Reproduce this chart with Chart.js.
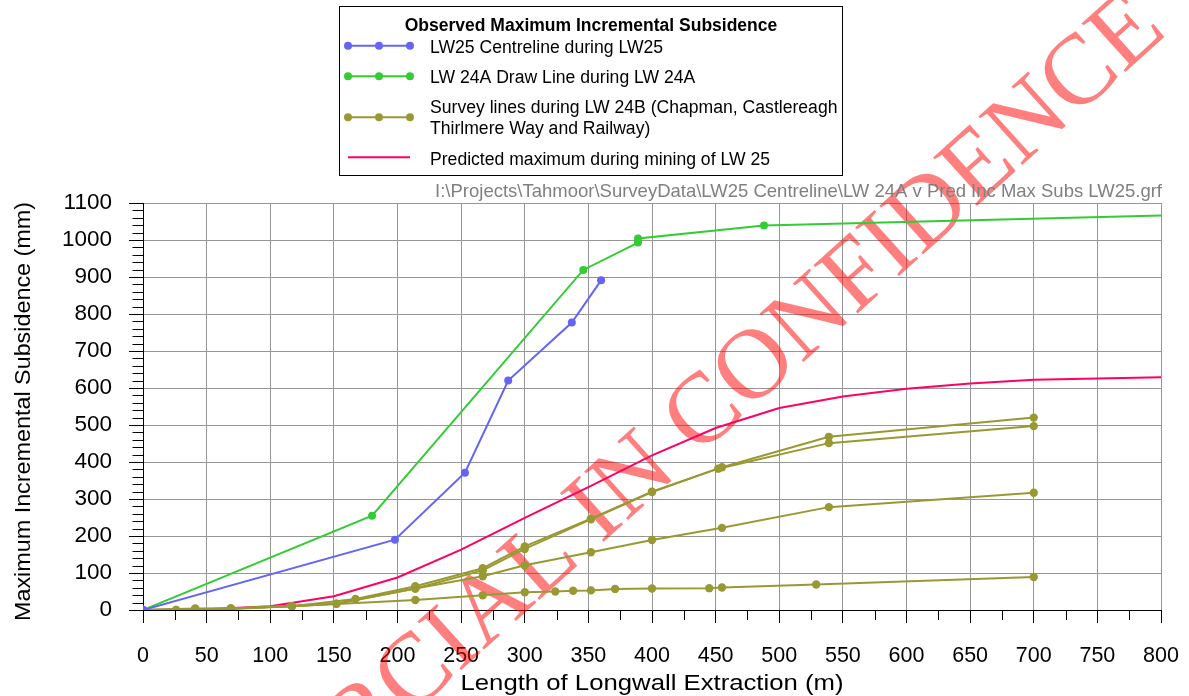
<!DOCTYPE html>
<html><head><meta charset="utf-8">
<script src="https://cdn.jsdelivr.net/npm/chart.js@4.4.0/dist/chart.umd.min.js"></script>
<style>html,body{margin:0;padding:0;background:#fff;}#wrap{width:1189px;height:696px;}</style>
</head><body><div id="wrap"><canvas id="c" width="1189" height="696"></canvas></div>
<script>
// ---- data ----
const lw25X = [0, 198, 253, 287, 337, 360];
const lw25Y = [0, 190, 371, 620, 777, 891];

const lw24aX = [0, 180, 346, 389, 389, 488, 800];
const lw24aY = [0, 255, 919, 993, 1004, 1039, 1066];
const lw24aMarked = [0, 1, 1, 1, 1, 1, 0];

const surveyAX = [0, 41, 69, 117, 167, 214, 267, 300, 352, 400, 455, 539, 700];
const surveyAY = [0, 4, 4, 10, 30, 64, 113, 172, 247, 320, 386, 468, 520];
const surveyBX = [0, 26, 69, 117, 152, 214, 267, 300, 352, 400, 452, 539, 700];
const surveyBY = [0, 0, 4, 10, 17, 58, 107, 165, 245, 319, 382, 451, 497];
const surveyCX = [0, 41, 69, 152, 214, 267, 300, 352, 400, 455, 539, 700];
const surveyCY = [0, 3, 4, 17, 58, 91, 121, 156, 189, 222, 278, 317];
const surveyDX = [0, 26, 69, 117, 214, 267, 300, 324, 338, 352, 371, 400, 445, 455, 529, 700];
const surveyDY = [0, 0, 3, 10, 27, 40, 48, 50, 52, 53, 57, 58, 59, 61, 69, 89];

const predX = [0, 50, 100, 150, 200, 250, 300, 350, 400, 450, 500, 550, 600, 650, 700, 750, 800];
const predY = [0, 2, 10, 37, 88, 163, 249, 332, 418, 492, 546, 577, 598, 612, 622, 626, 629];

const xTickStep = 50, yTickStep = 100, xMinorStep = 25, yMinorStep = 20;

const xTitle = 'Length of Longwall Extraction (m)';
const yTitle = 'Maximum Incremental Subsidence (mm)';
const legendTitle = 'Observed Maximum Incremental Subsidence';
const legendLabels = [
  ['LW25 Centreline during LW25'],
  ['LW 24A Draw Line during LW 24A'],
  ['Survey lines during LW 24B (Chapman, Castlereagh', 'Thirlmere Way and Railway)'],
  ['Predicted maximum during mining of LW 25']
];
const filePath = 'I:\\Projects\\Tahmoor\\SurveyData\\LW25 Centreline\\LW 24A v Pred Inc Max Subs LW25.grf';
const watermarkTail = 'CONFIDENCE';
const watermarkHead = 'COMMERCIAL IN ';

// ---- styles ----
const BLUE = '#6464f5', GREEN = '#33cc33', OLIVE = '#999933', PINK = '#ff0066';
const FONT = "'Liberation Sans', Arial, sans-serif";

const pts = (xs, ys) => xs.map((x, i) => ({x, y: ys[i]}));
function series(xs, ys, color, radius) {
  return {data: pts(xs, ys), borderColor: color, backgroundColor: color, showLine: true,
    borderWidth: 2, pointRadius: radius, pointHoverRadius: radius, pointBorderWidth: 0, tension: 0};
}

const datasets = [
  series(lw25X, lw25Y, BLUE, 4),
  series(lw24aX, lw24aY, GREEN, lw24aMarked.map(m => m ? 4 : 0)),
  series(surveyAX, surveyAY, OLIVE, 4.2),
  series(surveyBX, surveyBY, OLIVE, 4.2),
  series(surveyCX, surveyCY, OLIVE, 4.2),
  series(surveyDX, surveyDY, OLIVE, 4.2),
  series(predX, predY, PINK, 0)
];

const minorTicks = {
  id: 'minorTicks',
  afterDraw(chart) {
    const ctx = chart.ctx, xs = chart.scales.x, ys = chart.scales.y;
    ctx.save();
    ctx.strokeStyle = '#000'; ctx.lineWidth = 1;
    ctx.beginPath();
    for (let v = xs.min; v <= xs.max; v += xMinorStep) {
      if (v % xTickStep === 0) continue;
      const p = Math.round(xs.getPixelForValue(v)) + 0.5;
      ctx.moveTo(p, ys.bottom); ctx.lineTo(p, ys.bottom + 10);
    }
    for (let v = ys.min; v <= ys.max; v += yMinorStep) {
      if (v % yTickStep === 0) continue;
      const p = Math.round(ys.getPixelForValue(v)) + 0.5;
      ctx.moveTo(xs.left - 10.5, p); ctx.lineTo(xs.left, p);
    }
    ctx.stroke();
    ctx.restore();
  }
};

const axisTitles = {
  id: 'axisTitles',
  afterDraw(chart) {
    const ctx = chart.ctx, a = chart.chartArea;
    ctx.save();
    ctx.fillStyle = '#000'; ctx.font = '22px ' + FONT;
    ctx.textAlign = 'center'; ctx.textBaseline = 'alphabetic';
    let w = ctx.measureText(xTitle).width;
    ctx.translate((a.left + a.right) / 2, 689.5);
    ctx.scale(383 / w, 1);
    ctx.fillText(xTitle, 0, 0);
    ctx.restore();
    ctx.save();
    ctx.fillStyle = '#000'; ctx.font = '22px ' + FONT;
    ctx.textAlign = 'center'; ctx.textBaseline = 'alphabetic';
    w = ctx.measureText(yTitle).width;
    ctx.translate(29.5, 411.5);
    ctx.rotate(-Math.PI / 2);
    ctx.scale(419 / w, 1);
    ctx.fillText(yTitle, 0, 0);
    ctx.restore();
  }
};

const watermark = {
  id: 'watermark',
  beforeDatasetsDraw(chart) {
    const ctx = chart.ctx;
    ctx.save();
    ctx.translate(698, 457);
    ctx.rotate(-42 * Math.PI / 180);
    ctx.font = "100px 'Liberation Serif', 'Times New Roman', serif";
    ctx.fillStyle = 'rgba(255,0,0,0.5)';
    ctx.textBaseline = 'alphabetic';
    ctx.textAlign = 'left';
    ctx.fillText(watermarkTail, 0, 0);
    ctx.textAlign = 'right';
    ctx.fillText(watermarkHead, 0, 0);
    ctx.restore();
  }
};

const legendBox = {
  id: 'legendBox',
  afterDraw(chart) {
    const ctx = chart.ctx;
    ctx.save();
    ctx.fillStyle = '#fff';
    ctx.fillRect(339.5, 6.5, 503, 169);
    ctx.strokeStyle = '#000'; ctx.lineWidth = 1;
    ctx.strokeRect(339.5, 6.5, 503, 169);
    ctx.fillStyle = '#000';
    ctx.textAlign = 'center'; ctx.textBaseline = 'alphabetic';
    ctx.font = 'bold 17.5px ' + FONT;
    ctx.fillText(legendTitle, 591, 31);
    const rows = [
      {color: BLUE, y: 45.7, marks: true, base: [53.3]},
      {color: GREEN, y: 76.3, marks: true, base: [83.3]},
      {color: OLIVE, y: 117.3, marks: true, base: [113.3, 134]},
      {color: PINK, y: 157.3, marks: false, base: [165]}
    ];
    ctx.font = '17.6px ' + FONT;
    ctx.textAlign = 'left';
    rows.forEach((r, i) => {
      ctx.strokeStyle = r.color; ctx.lineWidth = 2;
      ctx.beginPath(); ctx.moveTo(348, r.y); ctx.lineTo(410, r.y); ctx.stroke();
      if (r.marks) {
        ctx.fillStyle = r.color;
        [348, 379, 410].forEach(x => { ctx.beginPath(); ctx.arc(x, r.y, 4, 0, Math.PI * 2); ctx.fill(); });
      }
      ctx.fillStyle = '#000';
      legendLabels[i].forEach((t, j) => ctx.fillText(t, 430, r.base[j]));
    });
    ctx.font = '18.5px ' + FONT;
    ctx.fillStyle = '#808080';
    ctx.textAlign = 'right';
    ctx.fillText(filePath, 1162, 197);
    ctx.restore();
  }
};

new Chart(document.getElementById('c'), {
  type: 'scatter',
  data: {datasets},
  options: {
    responsive: false, animation: false,
    layout: {padding: {left: 0, right: 28, top: 203, bottom: 0}},
    plugins: {legend: {display: false}, tooltip: {enabled: false}},
    scales: {
      x: {
        type: 'linear', min: 0, max: 800,
        ticks: {stepSize: xTickStep, color: '#000', font: {family: FONT, size: 21.5}, padding: 20, maxRotation: 0, autoSkip: false,
          callback: v => String(v)},
        grid: {color: '#969696', tickColor: '#000', tickLength: 13, lineWidth: 1},
        border: {color: '#000', width: 1},
        title: {display: false},
        afterFit(s) { s.height = 86; s.paddingLeft = 0; s.paddingRight = 0; }
      },
      y: {
        type: 'linear', min: 0, max: 1100,
        ticks: {stepSize: yTickStep, color: '#000', font: {family: FONT, size: 22.5}, padding: 17,
          callback: v => String(v)},
        grid: {color: '#969696', tickColor: '#000', tickLength: 14, lineWidth: 1},
        border: {color: '#000', width: 1},
        title: {display: false},
        afterFit(s) { s.width = 143; s.paddingTop = 0; s.paddingBottom = 0; }
      }
    }
  },
  plugins: [watermark, minorTicks, legendBox, axisTitles]
});
</script>
</body></html>
